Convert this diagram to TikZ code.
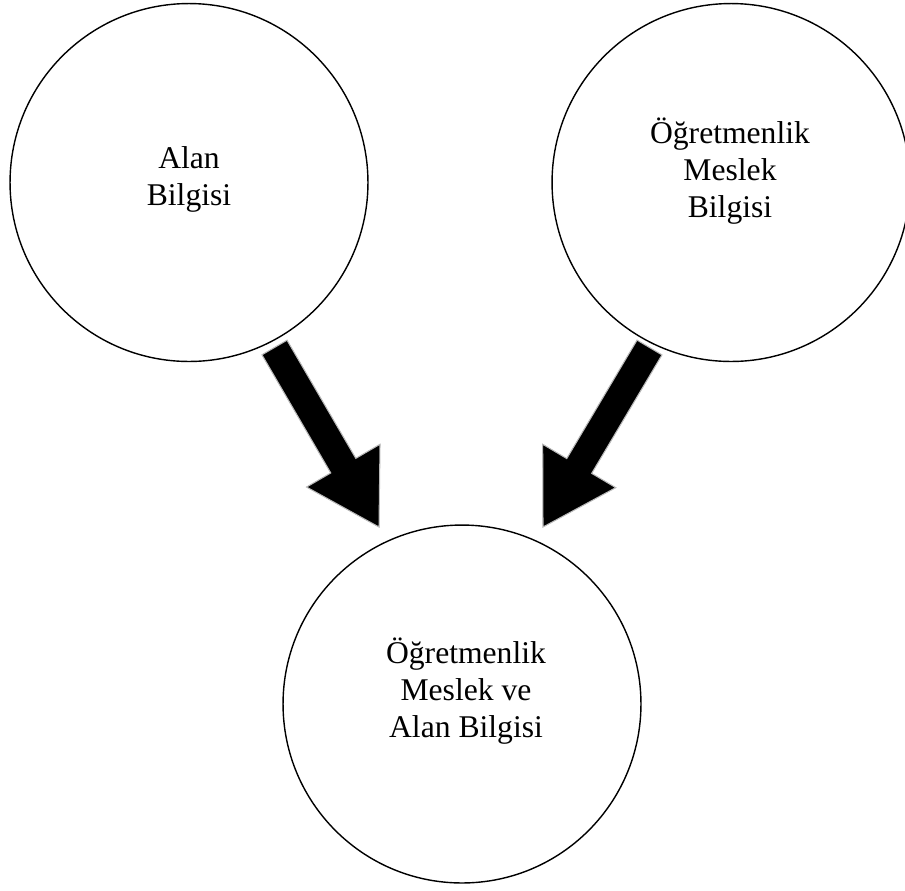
\documentclass[tikz,border=0pt]{standalone}
\usepackage{fontspec}
\setmainfont{Liberation Serif}
\usetikzlibrary{calc}

\def\shafthw{0.29cm}
\def\headhw{0.85cm}
\def\headlen{1.42cm}
\tikzset{
  bubble/.style={circle,draw=black,line width=0.8pt,minimum size=7.16cm,inner sep=0pt},
  bubbletext/.style={align=center,font=\fontsize{18}{21}\selectfont},
  bigarrow/.style={fill=black,draw=gray!55,line width=0.6pt,line join=miter}
}

\begin{document}
\begin{tikzpicture}[x=0.02cm,y=-0.02cm]
  \useasboundingbox (0,0) rectangle (905,890);
  \node[bubble] (alan) at (189,182.5) {};
  \node[bubble] (meslek) at (731,182.5) {};
  \node[bubble] (ortak) at (462,704) {};
  \node[bubbletext] (alantxt) at (189,179) {Alan\\Bilgisi};
  \node[bubbletext] (meslektxt) at (730,171) {Öğretmenlik\\Meslek\\Bilgisi};
  \node[bubbletext] (ortaktxt) at (466,691) {Öğretmenlik\\Meslek ve\\Alan Bilgisi};
  % arrow ends
  \coordinate (la) at ($(alan)+(85.5,165)$);
  \coordinate (lt) at ($(ortak)+(-83,-177)$);
  \coordinate (ra) at ($(meslek)+(-81.5,165)$);
  \coordinate (rt) at ($(ortak)+(81,-177)$);
  \foreach \s/\t in {la/lt, ra/rt} {
    \coordinate (m) at ($(\t)!\headlen!(\s)$);
    \filldraw[bigarrow] ($(\s)!\shafthw!90:(\t)$) -- ($(m)!\shafthw!90:(\t)$)
      -- ($(m)!\headhw!90:(\t)$) -- (\t) -- ($(m)!\headhw!-90:(\t)$)
      -- ($(m)!\shafthw!-90:(\t)$) -- ($(\s)!\shafthw!-90:(\t)$) -- cycle;
  }
\end{tikzpicture}
\end{document}
